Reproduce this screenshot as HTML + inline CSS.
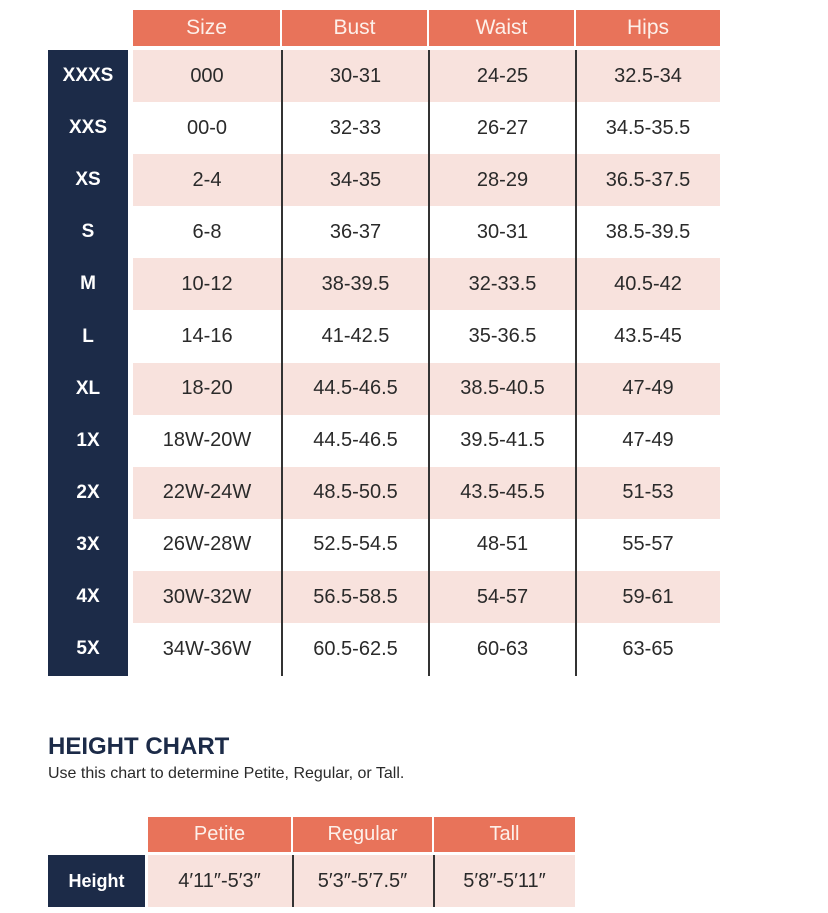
<!DOCTYPE html>
<html><head><style>
body{margin:0;width:828px;height:913px;background:#fff;position:relative;font-family:"Liberation Sans",sans-serif;overflow:hidden}
.a{position:absolute;display:flex;align-items:center;justify-content:center;box-sizing:border-box}
.h{background:#e8735a;color:#fdf0ea;font-size:21px}
.n{background:#1c2b48;color:#fff;font-size:19px;font-weight:bold}
.d{color:#2a2a2a;font-size:20px}
.p{background:#f8e2dd}
.v{position:absolute;width:1.5px;background:#333}
</style></head><body>
<div class="a h" style="left:133px;top:10px;width:147px;height:36px">Size</div>
<div class="a h" style="left:282px;top:10px;width:145px;height:36px">Bust</div>
<div class="a h" style="left:429px;top:10px;width:145px;height:36px">Waist</div>
<div class="a h" style="left:576px;top:10px;width:144px;height:36px">Hips</div>
<div style="position:absolute;left:48px;top:50px;width:80px;height:626px;background:#1c2b48"></div>
<div id="rows"></div>
<script>
var d=[["XXXS","000","30-31","24-25","32.5-34"],["XXS","00-0","32-33","26-27","34.5-35.5"],["XS","2-4","34-35","28-29","36.5-37.5"],["S","6-8","36-37","30-31","38.5-39.5"],["M","10-12","38-39.5","32-33.5","40.5-42"],["L","14-16","41-42.5","35-36.5","43.5-45"],["XL","18-20","44.5-46.5","38.5-40.5","47-49"],["1X","18W-20W","44.5-46.5","39.5-41.5","47-49"],["2X","22W-24W","48.5-50.5","43.5-45.5","51-53"],["3X","26W-28W","52.5-54.5","48-51","55-57"],["4X","30W-32W","56.5-58.5","54-57","59-61"],["5X","34W-36W","60.5-62.5","60-63","63-65"]];
var xs=[133,282,429,576],ws=[148,147,147,144],h="";
d.forEach(function(r,i){var y=50+i*52.1;
if(i%2==0)h+='<div class="a p" style="left:133px;top:'+y+'px;width:587px;height:52px"></div>';
h+='<div class="a n" style="left:48px;top:'+y+'px;width:80px;height:52px">'+r[0]+'</div>';
for(var j=0;j<4;j++)h+='<div class="a d" style="left:'+xs[j]+'px;top:'+y+'px;width:'+ws[j]+'px;height:52px">'+r[j+1]+'</div>';});
[281,428,575].forEach(function(x){h+='<div class="v" style="left:'+x+'px;top:50px;height:626px"></div>'});
document.getElementById("rows").innerHTML=h;
</script>
<div style="position:absolute;left:48px;top:733px;font-size:24px;font-weight:bold;color:#1c2b48">HEIGHT CHART</div>
<div style="position:absolute;left:48px;top:765px;font-size:16px;color:#2a2a2a">Use this chart to determine Petite, Regular, or Tall.</div>
<div class="a h" style="left:148px;top:817px;width:143px;height:35px;font-size:20px">Petite</div>
<div class="a h" style="left:293px;top:817px;width:139px;height:35px;font-size:20px">Regular</div>
<div class="a h" style="left:434px;top:817px;width:141px;height:35px;font-size:20px">Tall</div>
<div class="a n" style="left:48px;top:855px;width:97px;height:52px;font-size:18px">Height</div>
<div class="a p d" style="left:148px;top:855px;width:427px;height:52px"></div>
<div class="a d" style="left:148px;top:855px;width:143px;height:52px">4′11″-5′3″</div>
<div class="a d" style="left:293px;top:855px;width:139px;height:52px">5′3″-5′7.5″</div>
<div class="a d" style="left:434px;top:855px;width:141px;height:52px">5′8″-5′11″</div>
<div class="v" style="left:292px;top:855px;height:52px"></div>
<div class="v" style="left:433px;top:855px;height:52px"></div>
</body></html>
